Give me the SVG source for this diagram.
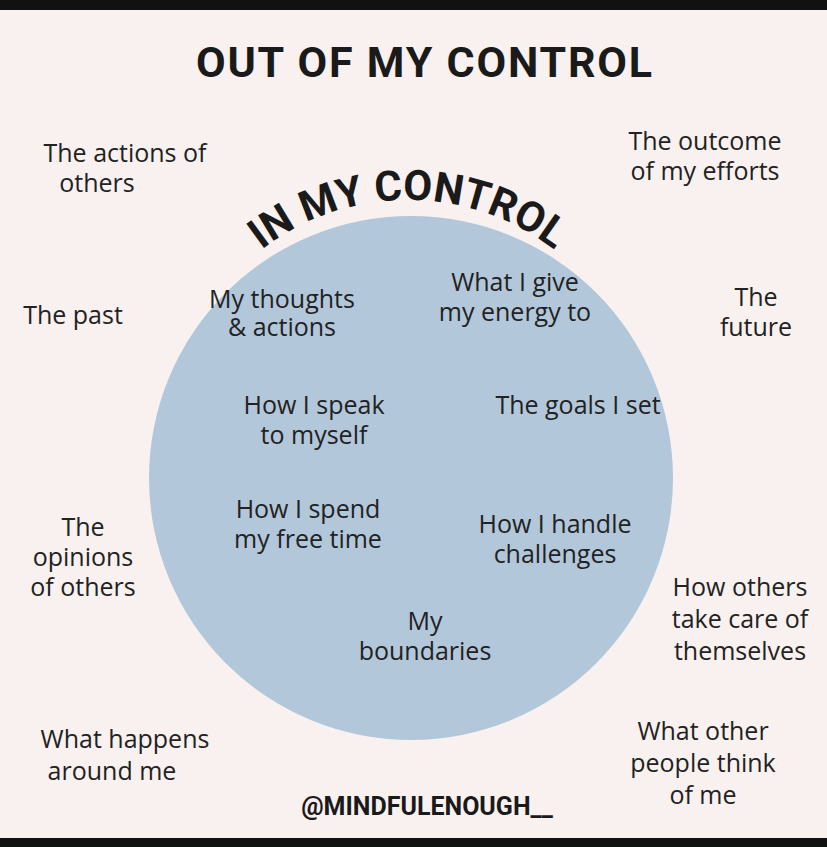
<svg xmlns="http://www.w3.org/2000/svg" width="827" height="847" viewBox="0 0 827 847">
<style>
.h{font-family:"Open Sans","Noto Sans",sans-serif;font-size:25px;fill:#222;text-anchor:middle}
.t{font-family:"Roboto","Liberation Sans",sans-serif;font-weight:bold;fill:#1a1a1a}
</style>
<defs><path id="arc" d="M 168 440 A 240 240 0 0 1 648 440"/></defs>
<rect width="827" height="847" fill="#f9f1ef"/>
<rect width="827" height="10" fill="#111"/>
<rect y="838" width="827" height="9" fill="#111"/>
<g id="title"><text class="t" x="424" y="77" font-size="43" text-anchor="middle" textLength="456">OUT OF MY CONTROL</text></g>
<g id="circle"><circle cx="411" cy="478" r="262" fill="#b3c7da"/>
<text class="t" font-size="42"><textPath href="#arc" startOffset="50%" text-anchor="middle">IN MY CONTROL</textPath></text></g>
<g id="outside">
<text class="h" x="125" y="162">The actions of<tspan x="97" dy="30">others</tspan></text>
<text class="h" x="705" y="150">The outcome<tspan x="705" dy="30">of my efforts</tspan></text>
<text class="h" x="73" y="324">The past</text>
<text class="h" x="756" y="306">The<tspan x="756" dy="30">future</tspan></text>
<text class="h" x="83" y="536">The<tspan x="83" dy="30">opinions</tspan><tspan x="83" dy="30">of others</tspan></text>
<text class="h" x="740" y="596">How others<tspan x="740" dy="32">take care of</tspan><tspan x="740" dy="32">themselves</tspan></text>
<text class="h" x="125" y="748">What happens<tspan x="112" dy="32">around me</tspan></text>
<text class="h" x="703" y="740">What other<tspan x="703" dy="32">people think</tspan><tspan x="703" dy="32">of me</tspan></text>
</g>
<g id="inside">
<text class="h" x="282" y="308">My thoughts<tspan x="282" dy="28">&amp; actions</tspan></text>
<text class="h" x="515" y="291">What I give<tspan x="515" dy="30">my energy to</tspan></text>
<text class="h" x="314" y="414">How I speak<tspan x="314" dy="30">to myself</tspan></text>
<text class="h" x="578" y="414">The goals I set</text>
<text class="h" x="308" y="518">How I spend<tspan x="308" dy="30">my free time</tspan></text>
<text class="h" x="555" y="533">How I handle<tspan x="555" dy="30">challenges</tspan></text>
<text class="h" x="425" y="630">My<tspan x="425" dy="30">boundaries</tspan></text>
</g>
<g id="handle"><text class="t" x="427" y="815" font-size="25" text-anchor="middle">@MINDFULENOUGH__</text></g>
</svg>
